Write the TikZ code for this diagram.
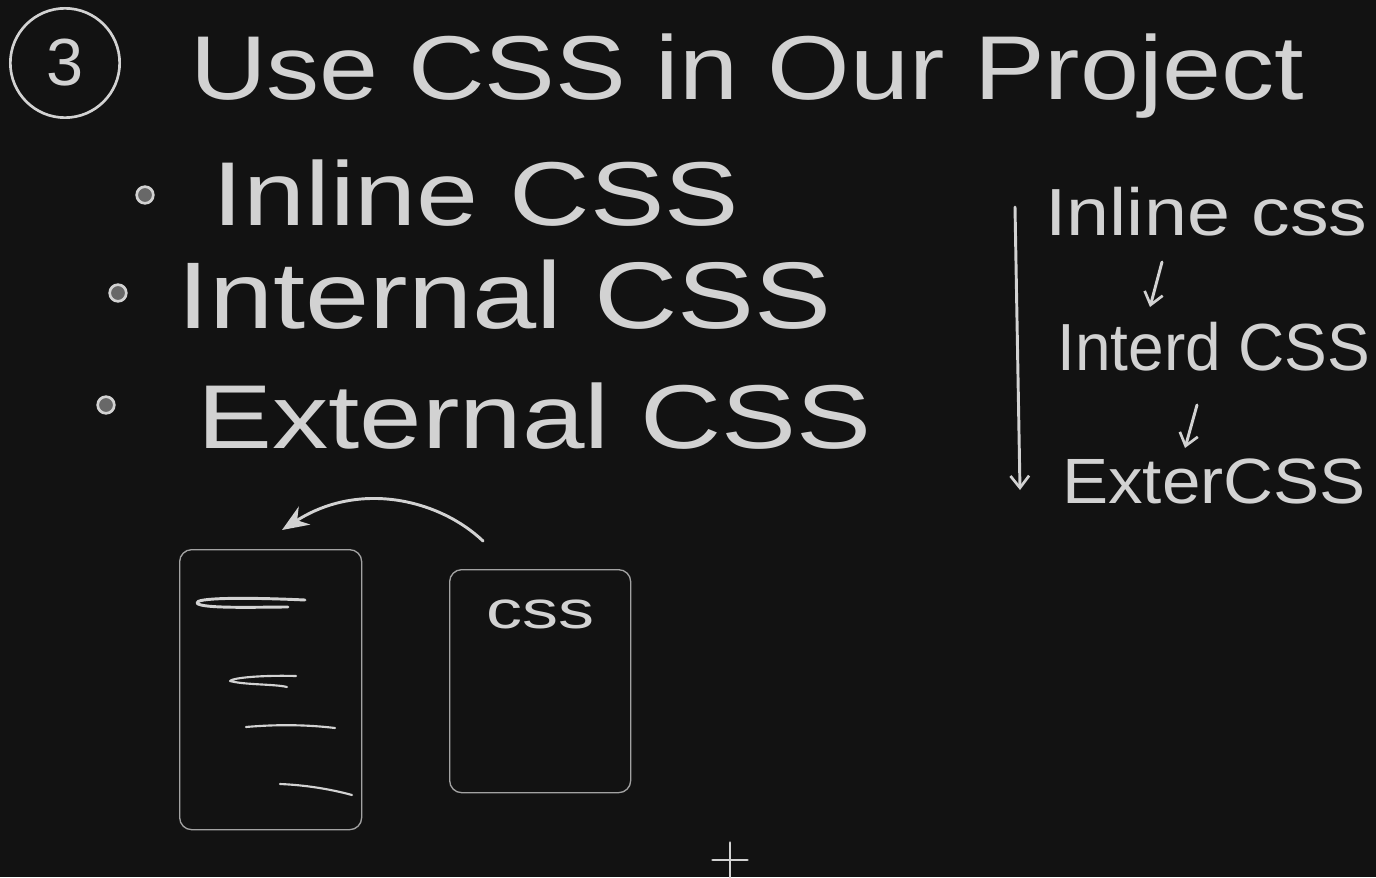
\documentclass[tikz,border=0pt]{standalone}
\usepackage{fontspec}
\usepackage{graphicx}
\setmainfont{Liberation Sans}
\usetikzlibrary{arrows.meta}
\definecolor{bg}{HTML}{121212}
\definecolor{ink}{HTML}{D2D2D2}
\definecolor{frame}{HTML}{A2A2A2}
\tikzset{
  txt/.style={text=ink, inner sep=0pt, anchor=base west},
  pen/.style={draw=ink, line width=2.2pt, line cap=round, line join=round},
  thinpen/.style={draw=ink, line width=1.6pt, line cap=round, line join=round},
  page/.style={draw=frame, line width=1pt, rounded corners=9pt},
  bulletdot/.style={circle, draw=ink, line width=2pt, fill=ink!45!bg, minimum size=12.5pt, inner sep=0pt},
  barb/.style={-{Straight Barb[length=9pt,width=14pt,line width=2pt]}},
}
\begin{document}
\begin{tikzpicture}[x=0.75pt,y=-0.75pt]
\fill[bg] (0,0) rectangle (1376,877);
\useasboundingbox (0,0) rectangle (1376,877);
\clip (0,0) rectangle (1376,877);

% numbered title
\node[circle, draw=ink, line width=2pt, minimum size=82pt, inner sep=0pt, text=ink,
      font=\fontsize{50}{50}\selectfont] (num) at (65,63) {3};
\node[txt] (title) at (190,100) {\fontsize{68}{68}\selectfont\scalebox{1.17}[1]{Use CSS in Our Project}};

% bullet list
\node[bulletdot] (b1) at (145,195) {};
\node[bulletdot] (b2) at (118,293) {};
\node[bulletdot] (b3) at (106,405) {};
\node[txt] (inline) at (212,225) {\fontsize{68}{68}\selectfont\scalebox{1.23}[1]{Inline CSS}};
\node[txt] (internal) at (177,328) {\fontsize{71}{71}\selectfont\scalebox{1.22}[1]{Internal CSS}};
\node[txt] (external) at (197,448) {\fontsize{68}{68}\selectfont\scalebox{1.24}[1]{External CSS}};

% right column: priority order
\node[txt] (rinl) at (1045,235) {\fontsize{50}{50}\selectfont\scalebox{1.16}[1]{Inline css}};
\node[txt] (rint) at (1057,370) {\fontsize{50}{50}\selectfont\scalebox{0.96}[1]{Interd CSS}};
\node[txt] (rext) at (1062,503) {\fontsize{48}{48}\selectfont\scalebox{1.08}[1]{ExterCSS}};

\coordinate (vtop) at (1015,207);
\coordinate (vbot) at (1020,490);
\draw[pen, barb] (vtop) -- (vbot);

\coordinate (a1s) at (1162,262);
\coordinate (a1e) at (1150,307);
\draw[pen, barb] (a1s) -- (a1e);
\coordinate (a2s) at (1197,405);
\coordinate (a2e) at (1185,448);
\draw[pen, barb] (a2s) -- (a2e);

% html page and css file
\node[page, minimum width=136.5pt, minimum height=210pt, anchor=north west] (html) at (179,549) {};
\node[page, minimum width=135.75pt, minimum height=167.25pt, anchor=north west] (cssfile) at (449,569) {};
\node[txt] (csslabel) at (486,628) {\fontsize{40}{40}\selectfont\scalebox{1.35}[1]{css}};

% scribbled lines on the html page
\draw[pen] (305,600) .. controls (240,597) and (195,598) .. (197,603) .. controls (200,609) and (260,607) .. (288,607);
\draw[thinpen] (296,676) .. controls (260,675) and (232,678) .. (230,681) .. controls (245,685) and (275,684) .. (287,687);
\draw[thinpen] (246,727) .. controls (280,724) and (310,725) .. (335,728);
\draw[thinpen] (280,784) .. controls (305,785) and (330,789) .. (352,795);

% curved arrow from css file to html page
\coordinate (cstart) at (483,541);
\coordinate (cend) at (282,530);
\draw[pen, -{Stealth[length=20pt,width=16pt]}] (cstart) .. controls (440,500) and (360,480) .. (cend);

% cursor
\coordinate (plus) at (730,860);
\draw[pen] ([xshift=-13]plus) -- ([xshift=13]plus);
\draw[pen] ([yshift=-13]plus) -- ([yshift=13]plus);
\end{tikzpicture}
\end{document}
